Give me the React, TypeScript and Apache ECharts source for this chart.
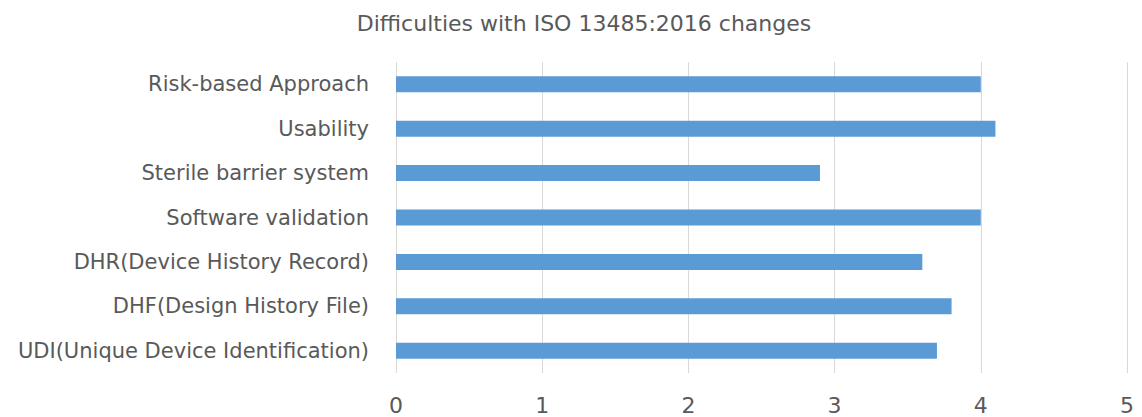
import React, { useEffect, useRef } from "react";
import * as echarts from "echarts";

const titleText = "Difficulties with ISO 13485:2016 changes";
const categories = [
  "Risk-based Approach",
  "Usability",
  "Sterile barrier system",
  "Software validation",
  "DHR(Device History Record)",
  "DHF(Design History File)",
  "UDI(Unique Device Identification)",
];
const values = [4.0, 4.1, 2.9, 4.0, 3.6, 3.8, 3.7];
const xMin = 0;
const xMax = 5;
const xInterval = 1;

export default function App() {
  const ref = useRef<HTMLDivElement>(null);
  useEffect(() => {
    if (!ref.current) return;
    const chart = echarts.init(ref.current, undefined, { renderer: "svg" });
    const font = "'DejaVu Sans', sans-serif";
    chart.setOption({
      animation: false,
      backgroundColor: "#ffffff",
      title: {
        text: titleText,
        left: 579,
        textAlign: "center",
        top: 7,
        textStyle: { fontFamily: font, fontSize: 22, fontWeight: "normal", color: "#595959" },
      },
      grid: { left: 396, right: 15, top: 62, bottom: 44, containLabel: false },
      xAxis: {
        type: "value",
        min: xMin,
        max: xMax,
        interval: xInterval,
        axisLine: { show: false },
        axisTick: { show: false },
        splitLine: { show: true, lineStyle: { color: "#d9d9d9", width: 1 } },
        axisLabel: { fontFamily: font, fontSize: 22, lineHeight: 22, color: "#595959", margin: 21 },
      },
      yAxis: {
        type: "category",
        data: categories,
        inverse: true,
        axisLine: { show: false },
        axisTick: { show: false },
        axisLabel: { fontFamily: font, fontSize: 21, color: "#595959", margin: 27 },
      },
      series: [
        {
          type: "bar",
          data: values,
          barWidth: 16,
          itemStyle: { color: "#5b9bd5" },
        },
      ],
    });
    return () => chart.dispose();
  }, []);
  return (
    <div
      ref={ref}
      style={{ position: "fixed", left: 0, top: 0, width: 1142, height: 417 }}
    />
  );
}
